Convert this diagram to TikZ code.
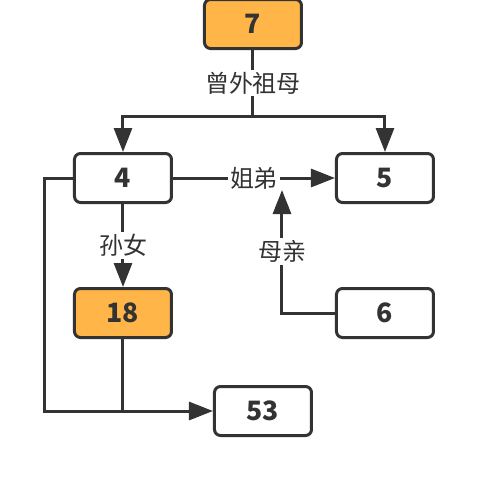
\documentclass[tikz,border=0pt]{standalone}
\usepackage{fontspec}
\newfontfamily\cjk{Noto Sans CJK SC}
\usetikzlibrary{arrows.meta}

\definecolor{inkgray}{RGB}{51,51,51}
\definecolor{kinorange}{RGB}{255,181,72}

\tikzset{every picture/.style={line width=0.75pt}}
\tikzset{
  person/.style={draw=inkgray, line width=2.25pt, rounded corners=4.5pt, fill=white,
    minimum width=72.75pt, minimum height=36.75pt, text=inkgray,
    font=\cjk\bfseries\fontsize{20}{24}\selectfont},
  focus/.style={person, fill=kinorange},
  relation/.style={fill=white, inner sep=1.5pt, text=inkgray,
    font=\cjk\fontsize{18}{22}\selectfont},
  tie/.style={draw=inkgray, line width=2.25pt},
  tiearrow/.style={tie, -{Triangle[length=18pt,width=13.5pt]}}
}

\begin{document}
\begin{tikzpicture}[x=0.75pt,y=0.75pt,yscale=-1,xscale=1]
	\useasboundingbox (0,0) rectangle (480,480);

	%Shape: Rectangle [people]
	\node (n7) [focus] at (253,24) {7};
	\node (n4) [person] at (123,178) {4};
	\node (n5) [person] at (385,178) {5};
	\node (n18) [focus] at (123,313) {18};
	\node (n6) [person] at (385,313) {6};
	\node (n53) [person] at (263,411) {53};

	% bends of the connectors
	\coordinate (fork) at (253,116);
	\coordinate (rise) at (282,190);
	\coordinate (floor) at (45,411);

	%Straight Lines [relations]
	\draw [tie] (n7) -- node[relation] {曾外祖母} (fork);
	\draw [tiearrow] (fork) -| (n4);
	\draw [tiearrow] (fork) -| (n5);
	\draw [tiearrow] (n4) -- node[relation] {姐弟} (n5);
	\draw [tiearrow] (n4) -- node[relation] {孙女} (n18);
	\draw [tiearrow] (n6) -| node[pos=0.75, relation] {母亲} (rise);
	\draw [tiearrow] (n4) -| (floor) -- (n53);
	\draw [tie] (n18) -- (n18 |- floor);

\end{tikzpicture}
\end{document}
